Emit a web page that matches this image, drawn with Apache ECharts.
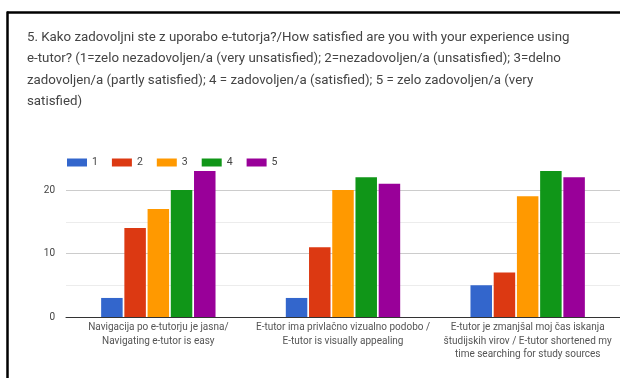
<!DOCTYPE html>
<html><head><meta charset="utf-8">
<script src="https://cdn.jsdelivr.net/npm/echarts@6/dist/echarts.min.js"></script>
<style>html,body{margin:0;padding:0;background:#fff}#c{width:620px;height:378px}</style>
</head><body><div id="c"></div>
<script>
const titleLines = [
  '5. Kako zadovoljni ste z uporabo e-tutorja?/How satisfied are you with your experience using',
  'e-tutor? (1=zelo nezadovoljen/a (very unsatisfied); 2=nezadovoljen/a (unsatisfied); 3=delno',
  'zadovoljen/a (partly satisfied); 4 = zadovoljen/a (satisfied); 5 = zelo zadovoljen/a (very',
  'satisfied)'
];
const categories = [
  'Navigacija po e-tutorju je jasna/\nNavigating e-tutor is easy',
  'E-tutor ima privlačno vizualno podobo /\nE-tutor is visually appealing',
  'E-tutor je zmanjšal moj čas iskanja\nštudijskih virov / E-tutor shortened my\ntime searching for study sources'
];
const seriesNames = ['1', '2', '3', '4', '5'];
const s1 = [3, 3, 5];
const s2 = [14, 11, 7];
const s3 = [17, 20, 19];
const s4 = [20, 22, 23];
const s5 = [23, 21, 22];
const colors = ['#3366cc', '#dc3912', '#ff9900', '#109618', '#990099'];
const values = [s1, s2, s3, s4, s5];

const chart = echarts.init(document.getElementById('c'), null, {renderer: 'canvas'});
chart.setOption({
  animation: false,
  color: colors,
  title: {
    text: titleLines.join('\n'),
    left: 27, top: 27, padding: 0,
    textStyle: {fontFamily: 'Roboto', fontSize: 13.3, fontWeight: 'normal', color: '#444', lineHeight: 21.3}
  },
  graphic: [
    {type: 'line', shape: {x1: 7, y1: 12.5, x2: 620, y2: 12.5}, style: {stroke: '#000', lineWidth: 2.5}},
    {type: 'line', shape: {x1: 7.5, y1: 11.5, x2: 7.5, y2: 378}, style: {stroke: '#000', lineWidth: 2.5}}
  ],
  legend: {
    left: 67, top: 157, padding: 0,
    itemWidth: 20, itemHeight: 8, itemGap: 14,
    icon: 'rect',
    textStyle: {fontFamily: 'Roboto', fontSize: 10.5, color: '#444'},
    data: seriesNames
  },
  grid: {left: 66, right: -1, top: 158.25, bottom: 61, containLabel: false},
  xAxis: {
    type: 'category', data: categories,
    axisTick: {show: false},
    axisLine: {lineStyle: {color: '#333', width: 1}},
    axisLabel: {interval: 0, margin: 4, fontFamily: 'Roboto', fontSize: 10, color: '#555', lineHeight: 13.5}
  },
  yAxis: {
    type: 'value', min: 0, max: 25, interval: 5,
    axisLine: {show: false}, axisTick: {show: false},
    axisLabel: {margin: 11, fontFamily: 'Roboto', fontSize: 10, color: '#444',
      formatter: v => (v % 10 === 0 && v < 25) ? String(v) : ''},
    splitLine: {lineStyle: {color: ['#cccccc', '#ececec', '#cccccc', '#ececec', '#cccccc', 'rgba(0,0,0,0)'], width: 1}}
  },
  series: seriesNames.map((n, i) => ({
    name: n, type: 'bar', data: values[i],
    barWidth: 21.5, barGap: '8%'
  }))
});
</script></body></html>
